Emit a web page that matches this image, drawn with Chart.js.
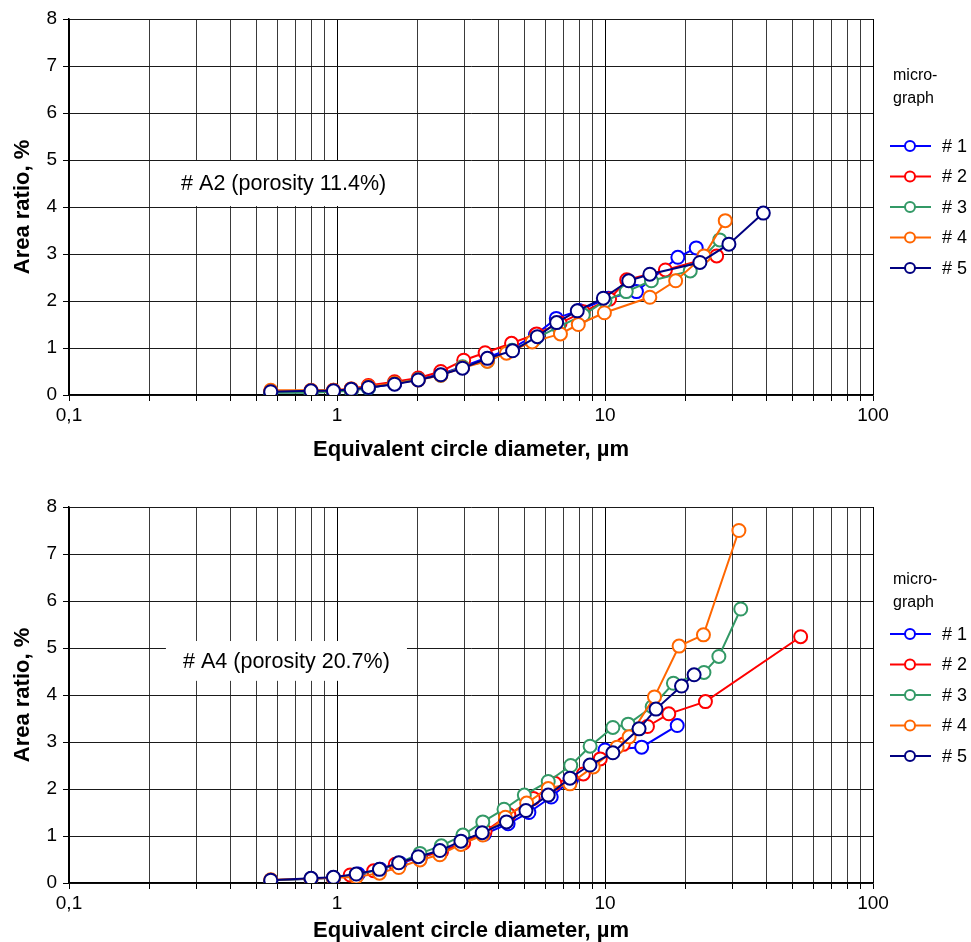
<!DOCTYPE html>
<html>
<head>
<meta charset="utf-8">
<script src="https://cdn.jsdelivr.net/npm/chart.js@4/dist/chart.umd.min.js"></script>
<style>
html, body { margin: 0; padding: 0; background: #fff; overflow: hidden; }
.wrap { position: absolute; left: 0; width: 971px; height: 471px; }
</style>
</head>
<body>
<div class="wrap" style="top:0"><canvas id="chartA2" width="971" height="471"></canvas></div>
<div class="wrap" style="top:488px"><canvas id="chartA4" width="971" height="471"></canvas></div>
<script>
// legend + axis labels
const seriesNames = ['# 1', '# 2', '# 3', '# 4', '# 5'];
const seriesColors = ['#0000ff', '#ff0000', '#339966', '#ff6600', '#000080'];
const xTickValues = [0.1, 1, 10, 100];
const xTickLabels = ['0,1', '1', '10', '100'];

// sample A2 (porosity 11.4%)
const a2x1 = [0.566, 0.80, 0.97, 1.13, 1.31, 1.64, 2.01, 2.44, 2.94, 3.64, 4.52, 5.50, 6.58, 8.00, 10.3, 13.1, 18.7, 21.9];
const a2y1 = [0.06, 0.06, 0.08, 0.10, 0.15, 0.24, 0.33, 0.45, 0.60, 0.80, 1.00, 1.28, 1.63, 1.80, 2.06, 2.20, 2.93, 3.13];
const a2x2 = [0.566, 0.80, 0.97, 1.13, 1.31, 1.64, 2.01, 2.44, 2.97, 3.57, 4.48, 5.56, 6.80, 8.30, 10.4, 12.05, 16.8, 26.1];
const a2y2 = [0.08, 0.09, 0.10, 0.13, 0.20, 0.28, 0.36, 0.50, 0.74, 0.90, 1.10, 1.30, 1.53, 1.77, 2.04, 2.45, 2.66, 2.96];
const a2x3 = [0.566, 0.80, 0.97, 1.13, 1.31, 1.64, 2.01, 2.44, 2.94, 3.64, 4.50, 5.50, 6.70, 8.30, 10.0, 12.0, 14.9, 20.8, 26.8];
const a2y3 = [0.05, 0.05, 0.07, 0.09, 0.15, 0.25, 0.33, 0.42, 0.60, 0.72, 0.95, 1.20, 1.45, 1.70, 2.00, 2.20, 2.43, 2.64, 3.30];
const a2x4 = [0.566, 0.80, 0.97, 1.13, 1.31, 1.64, 2.01, 2.44, 2.94, 3.64, 4.29, 5.35, 6.82, 7.95, 9.95, 14.7, 18.35, 23.4, 28.1];
const a2y4 = [0.10, 0.10, 0.10, 0.13, 0.18, 0.25, 0.32, 0.42, 0.58, 0.72, 0.89, 1.13, 1.30, 1.50, 1.75, 2.08, 2.43, 2.96, 3.71];
const a2x5 = [0.566, 0.80, 0.97, 1.13, 1.31, 1.64, 2.01, 2.44, 2.94, 3.64, 4.52, 5.59, 6.60, 7.88, 9.86, 12.26, 14.7, 22.6, 29.0, 38.97];
const a2y5 = [0.07, 0.09, 0.09, 0.12, 0.16, 0.23, 0.32, 0.43, 0.57, 0.78, 0.94, 1.24, 1.54, 1.79, 2.06, 2.43, 2.57, 2.82, 3.21, 3.87];

// sample A4 (porosity 20.7%)
const a4x1 = [0.566, 0.80, 0.97, 1.20, 1.45, 1.72, 2.05, 2.45, 2.95, 3.55, 4.35, 5.20, 6.30, 7.50, 8.90, 10.0, 13.7, 18.6];
const a4y1 = [0.06, 0.09, 0.11, 0.19, 0.29, 0.42, 0.55, 0.67, 0.85, 1.04, 1.26, 1.50, 1.83, 2.20, 2.50, 2.83, 2.89, 3.35];
const a4x2 = [0.97, 1.12, 1.37, 1.65, 2.04, 2.45, 2.97, 3.57, 4.38, 5.40, 6.50, 8.30, 9.60, 11.7, 14.4, 17.3, 23.7, 53.7];
const a4y2 = [0.10, 0.17, 0.26, 0.40, 0.56, 0.66, 0.85, 1.10, 1.45, 1.80, 2.12, 2.32, 2.64, 2.95, 3.33, 3.60, 3.86, 5.24];
const a4x3 = [0.566, 0.80, 0.97, 1.18, 1.44, 1.70, 2.04, 2.45, 2.95, 3.50, 4.20, 5.00, 6.14, 7.45, 8.80, 10.7, 12.2, 15.0, 18.0, 23.4, 26.6, 32.1];
const a4y3 = [0.06, 0.09, 0.11, 0.18, 0.28, 0.42, 0.63, 0.79, 1.02, 1.30, 1.57, 1.87, 2.16, 2.50, 2.91, 3.31, 3.38, 3.75, 4.25, 4.48, 4.82, 5.83];
const a4x4 = [0.566, 0.80, 0.97, 1.18, 1.44, 1.70, 2.04, 2.42, 2.90, 3.50, 4.25, 5.10, 6.14, 7.40, 9.04, 11.1, 12.3, 15.3, 18.9, 23.3, 31.6];
const a4y4 = [0.07, 0.09, 0.11, 0.13, 0.21, 0.33, 0.49, 0.60, 0.82, 1.02, 1.40, 1.70, 2.01, 2.11, 2.47, 2.89, 3.11, 3.96, 5.04, 5.28, 7.50];
const a4x5 = [0.566, 0.80, 0.97, 1.18, 1.44, 1.70, 2.01, 2.42, 2.90, 3.48, 4.29, 5.07, 6.14, 7.40, 8.79, 10.7, 13.4, 15.5, 19.3, 21.5];
const a4y5 = [0.06, 0.10, 0.12, 0.19, 0.29, 0.43, 0.56, 0.69, 0.89, 1.07, 1.30, 1.54, 1.87, 2.23, 2.51, 2.77, 3.28, 3.70, 4.19, 4.43];

const FONT = '"Liberation Sans", Arial, Helvetica, sans-serif';

function toPoints(xs, ys) {
    return xs.map((x, i) => ({ x: x, y: ys[i] }));
}

function makeDatasets(xsList, ysList) {
    return xsList.map((xs, i) => ({
        label: seriesNames[i],
        data: toPoints(xs, ysList[i]),
        showLine: true,
        borderColor: seriesColors[i],
        borderWidth: 2,
        pointRadius: 6.5,
        pointBorderWidth: 2,
        pointBackgroundColor: '#fff',
        pointBorderColor: seriesColors[i],
        order: seriesNames.length - i // #5 on top
    }));
}

// white label box + legend on the right
function decorPlugin(cfg) {
    return {
        id: 'decor',
        beforeDatasetsDraw(chart) {
            const { ctx } = chart;
            const xs = chart.scales.x, ys = chart.scales.y;
            const x0 = xs.getPixelForValue(cfg.box[0]) + 1;
            const x1 = xs.getPixelForValue(cfg.box[1]) - 1;
            const y0 = ys.getPixelForValue(cfg.box[3]) + 1;
            const y1 = ys.getPixelForValue(cfg.box[2]) - 1;
            ctx.save();
            ctx.fillStyle = '#fff';
            ctx.fillRect(x0, y0, x1 - x0, y1 - y0);
            ctx.fillStyle = '#000';
            ctx.font = '21.5px ' + FONT;
            ctx.textAlign = 'center';
            ctx.textBaseline = 'middle';
            ctx.fillText(cfg.label, (x0 + x1) / 2, (y0 + y1) / 2 + 1);
            ctx.restore();
        },
        afterDraw(chart) {
            const { ctx } = chart;
            ctx.save();
            ctx.fillStyle = '#000';
            ctx.font = '16px ' + FONT;
            ctx.textAlign = 'left';
            ctx.textBaseline = 'middle';
            ctx.fillText('micro-', 893, cfg.legendTitleY);
            ctx.fillText('graph', 893, cfg.legendTitleY + 23);
            seriesNames.forEach((name, i) => {
                const y = cfg.legendRowY + i * 30.5;
                ctx.strokeStyle = seriesColors[i];
                ctx.lineWidth = 2;
                ctx.beginPath();
                ctx.moveTo(890, y);
                ctx.lineTo(931, y);
                ctx.stroke();
                ctx.beginPath();
                ctx.arc(910, y, 5, 0, Math.PI * 2);
                ctx.fillStyle = '#fff';
                ctx.fill();
                ctx.stroke();
                ctx.fillStyle = '#000';
                ctx.font = '18px ' + FONT;
                ctx.fillText(name, 942, y + 1);
            });
            ctx.restore();
        }
    };
}

function makeChart(canvasId, xsList, ysList, cfg) {
    const ctx = document.getElementById(canvasId).getContext('2d');
    return new Chart(ctx, {
        type: 'scatter',
        data: { datasets: makeDatasets(xsList, ysList) },
        options: {
            responsive: false,
            animation: false,
            layout: { padding: { top: 19, right: 98, left: 0, bottom: 0 } },
            plugins: { legend: { display: false }, tooltip: { enabled: false } },
            scales: {
                x: {
                    type: 'logarithmic',
                    min: 0.1,
                    max: 100,
                    afterFit: s => { s.height = 76; },
                    afterBuildTicks: s => {
                        const t = [];
                        for (let e = -1; e < 2; e++) {
                            for (let m = 1; m <= 9; m++) t.push({ value: m * Math.pow(10, e) });
                        }
                        t.push({ value: 100 });
                        s.ticks = t;
                    },
                    ticks: {
                        autoSkip: false,
                        maxRotation: 0,
                        padding: 3,
                        color: '#000',
                        font: { family: FONT, size: 19 },
                        callback: v => {
                            const i = xTickValues.findIndex(t => Math.abs(t - v) / t < 1e-6);
                            return i >= 0 ? xTickLabels[i] : '';
                        }
                    },
                    grid: {
                        tickLength: 6,
                        color: c => {
                            const v = c.tick ? c.tick.value : 1;
                            const major = xTickValues.some(t => Math.abs(t - v) / t < 1e-6);
                            return major ? '#000' : '#3a3a3a';
                        },
                        tickColor: '#000'
                    },
                    border: { color: '#000', width: 1.5 },
                    title: {
                        display: true,
                        text: 'Equivalent circle diameter, µm',
                        color: '#000',
                        font: { family: FONT, size: 22, weight: 'bold' },
                        padding: { top: 0, bottom: cfg.xTitlePad }
                    }
                },
                y: {
                    min: 0,
                    max: 8,
                    afterFit: s => { s.width = 69; },
                    ticks: {
                        stepSize: 1,
                        padding: 6,
                        color: '#000',
                        font: { family: FONT, size: 19 }
                    },
                    grid: { tickLength: 6, color: '#1a1a1a', tickColor: '#000' },
                    border: { color: '#000', width: 1.5 },
                    title: {
                        display: true,
                        text: 'Area ratio, %',
                        color: '#000',
                        font: { family: FONT, size: 22, weight: 'bold' },
                        padding: { top: 10, bottom: 0 }
                    }
                }
            }
        },
        plugins: [decorPlugin(cfg)]
    });
}

makeChart('chartA2',
    [a2x1, a2x2, a2x3, a2x4, a2x5],
    [a2y1, a2y2, a2y3, a2y4, a2y5],
    { box: [0.2, 2, 4, 5], label: '# A2 (porosity 11.4%)', legendTitleY: 76, legendRowY: 146, xTitlePad: 8 });

makeChart('chartA4',
    [a4x1, a4x2, a4x3, a4x4, a4x5],
    [a4y1, a4y2, a4y3, a4y4, a4y5],
    { box: [0.228, 1.84, 4.28, 5.17], label: '# A4 (porosity 20.7%)', legendTitleY: 92, legendRowY: 146, xTitlePad: 15 });
</script>
</body>
</html>
